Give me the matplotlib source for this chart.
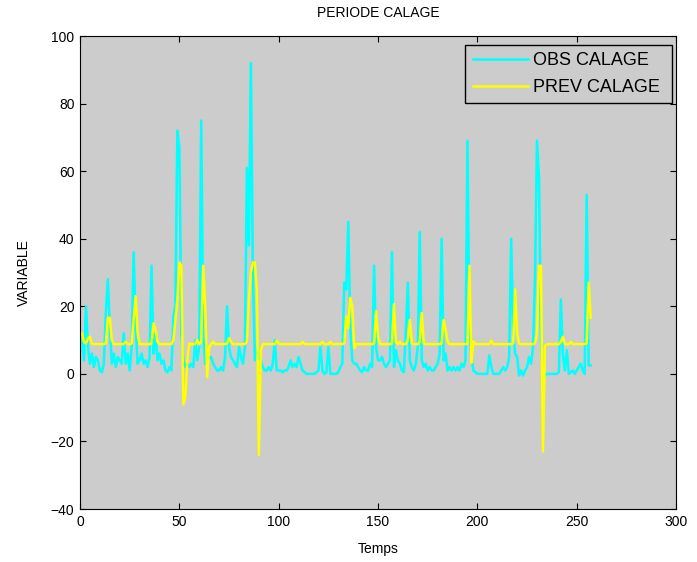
import matplotlib.pyplot as plt

import numpy as np

plt.rcParams['font.family'] = ['Liberation Sans', 'DejaVu Sans']
plt.rcParams['font.size'] = 10

# observed values, 16 per row (x = 1..257)
obs_calage = [
    10, 4, 20, 8, 3, 6, 2, 5, 4, 1, 0.5, 3, 18, 28, 14, 3,
    6, 2, 5, 4, 3, 12, 3, 6, 1, 8, 36, 14, 3, 4, 6, 3,
    4, 2, 5, 32, 6, 12, 4, 6, 3, 4, 1, 0.5, 2, 1, 17, 20,
    72, 67, 12, 4, 2, 3, 2, 3, 2, 10, 4, 8, 75, 12, 3, 4,
    4.5, 5, 3, 2, 1, 1, 2, 1, 5, 20, 8, 5, 4, 3, 2, 8,
    5, 3, 8, 61, 38, 92, 30, 4, 8, 5, 4, 2, 1, 1, 2, 1,
    3, 10, 1, 1, 1, 0.5, 1, 1, 2, 4, 2, 3, 2, 5, 3, 1,
    0.5, 0, 0, 0, 0, 0, 0.5, 1, 8, 1, 0, 0.5, 8, 0, 0, 0,
    0, 0.5, 2, 3, 27, 25, 45, 14, 4, 3, 3, 2, 1, 0.5, 2, 1,
    1, 3, 2, 32, 8, 4, 4, 5, 3, 2, 3, 4, 36, 2, 7, 4,
    3, 1, 0.5, 13, 27, 4, 2, 1, 3, 8, 42, 4, 2, 3, 1, 2,
    1, 1, 2, 3, 6, 40, 4, 6, 1, 2, 1, 2, 1, 2, 1, 3,
    2, 4, 69, 12, 5, 1, 0.5, 0, 0, 0, 0, 0, 0, 5.5, 2, 0,
    0, 0, 0, 1, 2, 1, 2, 5, 40, 12, 6, 5, -0.5, 1, -0.5, 1,
    2, 5, 3, 8, 29, 69, 58, 10, 0, -0.5, 0, 0, 0, 0, 0, 0,
    0.5, 22, 6, 1, 7, 0, 0.5, 1, 0, 1, 2, 3, 1, 0, 53, 2.5,
    2.5,
]

# predicted values, same layout
prev_calage = [
    12, 9.5, 9, 10.5, 11, 9, 8.8, 8.8, 8.8, 8.8, 8.8, 8.8, 9, 16.6, 16.6, 10,
    8.8, 8.8, 8.8, 8.8, 8.8, 8.8, 9.5, 8.8, 8.8, 9, 16, 23, 12, 8.8, 8.8, 8.8,
    8.8, 8.8, 8.8, 9, 15, 13, 9.5, 8.8, 8.8, 8.8, 8.8, 8.8, 8.8, 8.8, 10, 16,
    22, 33, 32, -9, -7, 4, 9, 8.8, 8.8, 8.8, 10, 8.8, 9.5, 32, 20, -1,
    8, 8.8, 9.5, 8.8, 8.8, 8.8, 8.8, 8.8, 8.8, 9, 10.5, 9.5, 8.8, 8.8, 8.8, 8.8,
    8.8, 8.8, 8.8, 9.5, 22, 30, 33, 33, 25, -24, 7, 8.8, 8.8, 8.8, 8.8, 8.8,
    8.8, 8.8, 9.8, 9, 8.8, 8.8, 8.8, 8.8, 8.8, 8.8, 8.8, 8.8, 8.8, 8.8, 8.8, 9.5,
    8.8, 8.8, 8.8, 8.8, 8.8, 8.8, 8.8, 8.8, 8.8, 9.5, 8.8, 8.8, 8.8, 9.5, 8.8, 8.8,
    8.8, 8.8, 8.8, 8.8, 9, 17, 13.5, 22.5, 20, 7.6, 8.8, 8.8, 8.8, 8.8, 8.8, 8.8,
    8.8, 8.8, 8.8, 9, 18.6, 11, 8.8, 8.8, 8.8, 8.8, 8.8, 8.8, 9, 20.6, 9.5, 8.8,
    9.5, 8.8, 8.8, 8.8, 10, 16, 9, 8.8, 8.8, 8.8, 9.5, 18, 9, 8.8, 8.8, 8.8,
    8.8, 8.8, 8.8, 8.8, 8.8, 9, 16, 13, 9.5, 8.8, 8.8, 8.8, 8.8, 8.8, 8.8, 8.8,
    8.8, 8.8, 9, 32, 3.3, 9.6, 8.8, 8.8, 8.8, 8.8, 8.8, 8.8, 8.8, 8.8, 9.8, 8.8,
    8.8, 8.8, 8.8, 8.8, 8.8, 8.8, 8.8, 8.8, 8.8, 9, 25, 12, 9, 8.8, 8.8, 8.8,
    8.8, 8.8, 8.8, 8.8, 9, 12, 32, 32, -23, 8.3, 8.8, 8.8, 8.8, 8.8, 8.8, 8.8,
    8.8, 9.5, 11, 8.8, 8.8, 8.8, 9.5, 8.8, 8.8, 8.8, 8.8, 8.8, 8.8, 8.8, 9, 27,
    16.6,
]

x_ticks = [0, 50, 100, 150, 200, 250, 300]
y_ticks = [-40, -20, 0, 20, 40, 60, 80, 100]

temps = np.arange(1, len(obs_calage) + 1)

fig = plt.figure(figsize=(6.97, 5.62), dpi=100)
ax = fig.add_axes([0.1148, 0.0943, 0.8552, 0.8416])
ax.set_facecolor('#cccccc')

ax.plot(temps, obs_calage, color='#00ffff', linewidth=1.8, label='OBS CALAGE')
ax.plot(temps, prev_calage, color='#ffff00', linewidth=1.8, label='PREV CALAGE ')

ax.set_xlim(0, 300)
ax.set_ylim(-40, 100)
ax.set_xticks(x_ticks)
ax.set_yticks(y_ticks)
ax.tick_params(direction='in', top=True, right=True, length=4, width=0.8, pad=4)
for s in ax.spines.values():
    s.set_linewidth(0.8)

ax.set_title('PERIODE CALAGE', fontsize=10, pad=14)
ax.set_xlabel('Temps', labelpad=10)
ax.set_ylabel('VARIABLE', labelpad=14)

# legend box sits just inside the top right corner, like the matlab one
leg = ax.legend(loc='upper right', bbox_to_anchor=(0.9933, 0.981), borderaxespad=0,
                fontsize=13, fancybox=False, framealpha=1,
                facecolor='#cccccc', edgecolor='black', handlelength=3.05,
                handletextpad=0.3, borderpad=0.4, labelspacing=0.55)
leg.get_frame().set_linewidth(1.0)

plt.savefig('out.png', dpi=100)
